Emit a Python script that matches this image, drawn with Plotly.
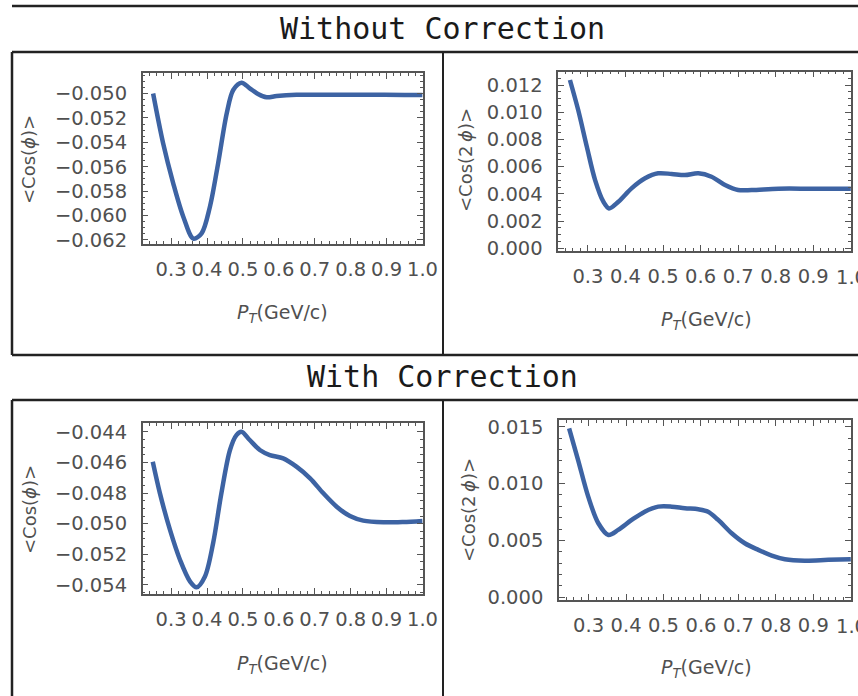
import plotly.graph_objects as go

W, H = 858, 696

# ---- data ----
pt1 = [0.250, 0.278, 0.306, 0.334, 0.362, 0.385, 0.408, 0.431, 0.455, 0.473, 0.496,
       0.519, 0.542, 0.566, 0.594, 0.649, 0.75, 0.85, 0.95, 1.0]
cos1_nc = [-0.0500, -0.0541, -0.05736, -0.0601, -0.0619, -0.06146, -0.0593, -0.05572,
           -0.05162, -0.04971, -0.04911, -0.04957, -0.05004, -0.05031, -0.0502, -0.05010,
           -0.05010, -0.05010, -0.05012, -0.05012]

pt2 = [0.252, 0.274, 0.297, 0.319, 0.341, 0.356, 0.381, 0.416, 0.452, 0.487, 0.523,
       0.558, 0.594, 0.629, 0.665, 0.700, 0.736, 0.807, 0.896, 1.0]
cos2_nc = [0.01237, 0.01016, 0.00746, 0.00501, 0.00342, 0.00293, 0.00342, 0.0044,
           0.00514, 0.00551, 0.00546, 0.00538, 0.00551, 0.00526, 0.00465, 0.00428,
           0.00428, 0.00438, 0.00438, 0.00438]

pt3 = [0.249, 0.269, 0.297, 0.325, 0.353, 0.371, 0.394, 0.417, 0.440, 0.464, 0.482,
       0.496, 0.519, 0.547, 0.575, 0.612, 0.649, 0.687, 0.724, 0.761, 0.798, 0.835,
       0.891, 0.946, 1.0]
cos1_wc = [-0.04596, -0.04802, -0.05041, -0.05237, -0.05378, -0.05415, -0.05346,
           -0.05128, -0.04802, -0.04519, -0.04422, -0.0440, -0.04454, -0.04519,
           -0.04552, -0.04574, -0.04628, -0.04704, -0.04802, -0.04889, -0.0495,
           -0.0498, -0.04991, -0.04989, -0.04982]

pt4 = [0.248, 0.272, 0.299, 0.326, 0.353, 0.379, 0.415, 0.450, 0.486, 0.522, 0.557,
       0.593, 0.619, 0.646, 0.682, 0.717, 0.753, 0.789, 0.824, 0.877, 0.940, 1.0]
cos2_wc = [0.01486, 0.01207, 0.00885, 0.00651, 0.00548, 0.00592, 0.0068, 0.00753,
           0.00797, 0.00797, 0.00783, 0.00774, 0.00753, 0.0068, 0.00563, 0.00475,
           0.00417, 0.00367, 0.00335, 0.00322, 0.00329, 0.00335]

x_ticks = [0.3, 0.4, 0.5, 0.6, 0.7, 0.8, 0.9, 1.0]
x_ticktext = ["0.3", "0.4", "0.5", "0.6", "0.7", "0.8", "0.9", "1.0"]

titles = ["Without Correction", "With Correction"]
ytitles = ["&lt;Cos(<i>ϕ</i>)&gt;", "&lt;Cos(2\u2009<i>ϕ</i>)&gt;"]
xtitle = "<i>P</i><sub><i>T</i></sub>(GeV/c)"

LINE = "#3d63a3"
FRAME = "#555555"
TXT = "#505050"
TICKFONT = dict(family="DejaVu Sans", size=19.5, color=TXT)
XSTANDOFF = 7

def px(x):
    return min(max(x / W, 0.0), 1.0)

def py(y):
    return min(max(1 - y / H, 0.0), 1.0)

fig = go.Figure()

panels = [
    (pt1, cos1_nc, 142.7, 422.7, 73.3, 244.0, [-0.06234, -0.04834], 0.002, 0.0005, 0, False),
    (pt2, cos2_nc, 558.3, 851.0, 71.7, 250.7, [-0.00018, 0.01298], 0.002, 0.0005, 1, True),
    (pt3, cos1_wc, 142.7, 422.7, 423.3, 594.0, [-0.05459, -0.04345], 0.002, 0.0005, 0, False),
    (pt4, cos2_wc, 559.0, 851.0, 420.0, 600.0, [-0.00024, 0.01559], 0.005, 0.001, 1, True),
]

ytitle_pos = [(29, 160), (466, 160), (29, 510), (468, 510)]
xtitle_pos = [(282, 314), (706, 320), (282, 664), (706, 668)]

annotations = []
for i, (xs, ys, l, r, t, b, yr, ydt, ymn, yti, edge) in enumerate(panels):
    n = "" if i == 0 else str(i + 1)
    fig.add_trace(go.Scatter(x=xs, y=ys, mode="lines",
                             line=dict(color=LINE, width=4.5, shape="spline", smoothing=0.9),
                             xaxis="x" + n, yaxis="y" + n, showlegend=False,
                             hoverinfo="skip"))
    common = dict(showline=True, linecolor=FRAME, linewidth=1.5, mirror="allticks",
                  ticks="inside", tickcolor=FRAME, showgrid=False, zeroline=False,
                  automargin=False, tickfont=TICKFONT)
    fig.update_layout(**{
        "xaxis" + n: dict(domain=[px(l), px(r)], range=[0.221, 1.0005],
                          anchor="y" + n, tickmode="array",
                          tickvals=x_ticks, ticktext=x_ticktext,
                          ticklen=6, ticklabelstandoff=XSTANDOFF,
                          minor=dict(dtick=0.02, tick0=0, ticks="inside", ticklen=3,
                                     tickcolor=FRAME),
                          **common),
        "yaxis" + n: dict(domain=[py(b), py(t)], range=yr, anchor="x" + n,
                          tick0=0, dtick=ydt, tickformat=".3f", ticklen=6,
                          ticklabelstandoff=10,
                          minor=dict(dtick=ymn, tick0=0, ticks="inside", ticklen=3,
                                     tickcolor=FRAME),
                          **common),
    })
    if edge:
        # the last label runs past the page edge (cut off, as in the reference)
        annotations.append(dict(text=x_ticktext[-1], x=x_ticks[-1], xref="x" + n,
                                y=0, yref="y" + n + " domain", xanchor="left",
                                yanchor="middle", xshift=-15.5, yshift=-(XSTANDOFF + 19.5),
                                width=22, align="left", borderpad=0,
                                showarrow=False, font=TICKFONT))
    yx, yy = ytitle_pos[i]
    annotations.append(dict(text=ytitles[yti], x=px(yx), y=py(yy), xref="paper", yref="paper",
                            showarrow=False, textangle=-90, xanchor="center", yanchor="middle",
                            font=dict(family="DejaVu Sans", size=18, color=TXT)))
    xx, xy = xtitle_pos[i]
    annotations.append(dict(text=xtitle, x=px(xx), y=py(xy), xref="paper", yref="paper",
                            showarrow=False, xanchor="center", yanchor="middle",
                            font=dict(family="DejaVu Sans", size=19, color=TXT)))

for txt, ty in zip(titles, [28, 376]):
    annotations.append(dict(text=txt, x=px(442), y=py(ty), xref="paper", yref="paper",
                            showarrow=False, xanchor="center", yanchor="middle",
                            font=dict(family="DejaVu Sans Mono", size=30, color="#1a1a1a")))

BOX = "#222222"
def pline(x0, y0, x1, y1, w):
    return dict(type="line", xref="paper", yref="paper", x0=px(x0), x1=px(x1),
                y0=py(y0), y1=py(y1), line=dict(color=BOX, width=w), layer="above")

shapes = [
    pline(12, 6, W, 6, 2.5),
    pline(12, 52, W, 52, 2.5),
    pline(12, 355, W, 355, 2.5),
    pline(12, 52, 12, 355, 2.5),
    pline(443, 52, 443, 355, 2),
    pline(12, 400, W, 400, 2.5),
    pline(12, 400, 12, H, 2.5),
    pline(443, 400, 443, H, 2),
]

fig.update_layout(width=W, height=H,
                  margin=dict(l=0, r=0, t=0, b=0, pad=0, autoexpand=False),
                  paper_bgcolor="white", plot_bgcolor="white", showlegend=False,
                  annotations=annotations, shapes=shapes)

fig.write_html("out.html")
